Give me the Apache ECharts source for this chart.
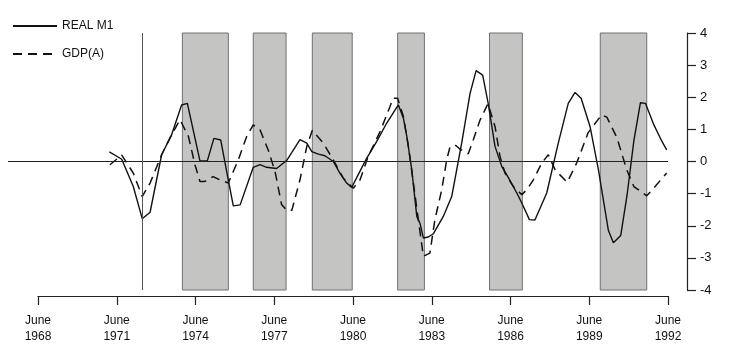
<!DOCTYPE html>
<html>
<head>
<meta charset="utf-8">
<script src="https://cdn.jsdelivr.net/npm/echarts@6/dist/echarts.min.js"></script>
<style>html,body{margin:0;padding:0;background:#fff}#c{width:733px;height:363px}</style>
</head>
<body>
<div id="c"></div>
<script>
// Decimal years (June 1968 = 1968.5)
const realM1Years = [1971.22,1971.69,1972.13,1972.47,1972.77,1973.21,1973.59,1973.97,1974.19,1974.67,1974.95,1975.20,1975.46,1975.71,1975.94,1976.20,1976.70,1976.96,1977.21,1977.59,1977.97,1978.48,1978.74,1978.93,1979.18,1979.43,1979.75,1980.00,1980.26,1980.45,1980.70,1981.02,1981.40,1981.78,1982.10,1982.23,1982.42,1982.55,1982.74,1982.93,1983.05,1983.18,1983.37,1983.56,1983.94,1984.26,1984.45,1984.64,1984.96,1985.19,1985.44,1985.65,1985.91,1986.17,1986.42,1986.74,1986.93,1987.22,1987.43,1987.88,1988.32,1988.70,1988.96,1989.19,1989.53,1989.85,1990.23,1990.42,1990.70,1990.94,1991.20,1991.45,1991.64,1991.94,1992.26,1992.45];
const realM1Values = [0.30,0.07,-0.78,-1.78,-1.58,0.21,0.83,1.76,1.81,0.02,0.02,0.72,0.67,-0.41,-1.38,-1.35,-0.18,-0.10,-0.18,-0.22,0.03,0.68,0.57,0.31,0.23,0.18,0.00,-0.36,-0.67,-0.81,-0.41,0.10,0.62,1.19,1.60,1.76,1.35,0.78,-0.26,-1.71,-1.92,-2.38,-2.35,-2.25,-1.71,-1.09,-0.26,0.57,2.12,2.83,2.69,1.81,0.47,-0.16,-0.50,-0.98,-1.29,-1.81,-1.82,-0.98,0.57,1.81,2.15,1.97,1.09,-0.26,-2.15,-2.53,-2.30,-1.05,0.65,1.83,1.81,1.18,0.64,0.36];
const gdpYears = [1971.24,1971.69,1972.13,1972.47,1972.77,1973.21,1973.57,1973.91,1974.23,1974.48,1974.67,1974.86,1975.17,1975.43,1975.75,1976.13,1976.45,1976.70,1976.96,1977.27,1977.53,1977.78,1977.97,1978.17,1978.48,1978.74,1978.95,1979.37,1979.75,1980.13,1980.51,1980.77,1981.08,1981.53,1981.91,1982.02,1982.20,1982.42,1982.61,1982.80,1982.99,1983.18,1983.43,1983.62,1983.88,1984.07,1984.20,1984.42,1984.58,1984.89,1985.08,1985.34,1985.64,1985.91,1986.10,1986.29,1986.61,1986.93,1987.12,1987.37,1987.69,1987.94,1988.20,1988.66,1989.02,1989.46,1989.97,1990.17,1990.55,1990.93,1991.20,1991.69,1992.04,1992.45];
const gdpValues = [-0.10,0.20,-0.36,-1.09,-0.67,0.21,0.80,1.30,0.78,-0.10,-0.62,-0.62,-0.47,-0.57,-0.67,0.05,0.78,1.14,0.98,0.36,-0.31,-1.34,-1.52,-1.52,-0.57,0.47,0.97,0.57,0.05,-0.52,-0.83,-0.57,0.16,0.93,1.71,1.97,1.97,1.40,0.47,-0.67,-1.81,-2.95,-2.85,-1.81,-0.88,0.05,0.47,0.50,0.38,0.24,0.67,1.29,1.80,1.09,0.16,-0.36,-0.78,-1.03,-0.88,-0.57,-0.05,0.21,-0.26,-0.65,-0.05,0.90,1.45,1.38,0.75,-0.26,-0.78,-1.07,-0.75,-0.36];
const shadeStart = [1974.00,1976.70,1978.95,1982.20,1985.70,1989.92];
const shadeEnd   = [1975.75,1977.95,1980.47,1983.22,1986.95,1991.69];
const markerYear = 1972.47;
const seriesNames = ['REAL M1','GDP(A)'];
const xTickLabel = 'June';

const base = 1968.5;
const pairs = (xs, ys) => xs.map((x, i) => [x - base, ys[i]]);
const FONT = 'Liberation Sans, Arial, sans-serif';
const hiddenAxis = {show: false, axisLine: {show: false, onZero: false}, axisTick: {show: false}, axisLabel: {show: false}, splitLine: {show: false}};

const chart = echarts.init(document.getElementById('c'), null, {renderer: 'canvas'});
chart.setOption({
  animation: false,
  backgroundColor: '#ffffff',
  textStyle: {fontFamily: FONT, color: '#111'},
  legend: {
    orient: 'vertical', left: 7, top: 15, itemWidth: 44, itemHeight: 12, itemGap: 16,
    itemStyle: {opacity: 0},
    textStyle: {fontFamily: FONT, fontSize: 12, color: '#111'},
    data: seriesNames
  },
  grid: [
    {left: 8, right: 65, top: 33, bottom: 73},
    {left: 38, right: 65, top: 33, bottom: 73}
  ],
  xAxis: [
    Object.assign({gridIndex: 0, type: 'value', min: (8 - 38) / 26.25, max: 24}, hiddenAxis),
    {gridIndex: 1, type: 'value', min: 0, max: 24, interval: 3, position: 'bottom', offset: 6,
     axisLine: {show: true, onZero: false, lineStyle: {color: '#222', width: 1.2}},
     axisTick: {show: true, length: 9, lineStyle: {color: '#222', width: 1.2}},
     splitLine: {show: false},
     axisLabel: {margin: 17, fontFamily: FONT, fontSize: 12, color: '#111', lineHeight: 16,
       formatter: v => xTickLabel + '\n' + Math.round(base + v - 0.5)}}
  ],
  yAxis: [
    {gridIndex: 0, type: 'value', position: 'right', offset: 19, min: -4, max: 4, interval: 1,
     axisLine: {show: true, onZero: false, lineStyle: {color: '#222', width: 1.2}},
     axisTick: {show: true, length: 9, lineStyle: {color: '#222', width: 1.2}},
     splitLine: {show: false},
     axisLabel: {margin: 13, fontFamily: FONT, fontSize: 13, color: '#111'}},
    Object.assign({gridIndex: 1, type: 'value', min: -4, max: 4}, hiddenAxis)
  ],
  series: [
    {
      type: 'line', xAxisIndex: 0, yAxisIndex: 0, data: [], z: 1, silent: true,
      markArea: {
        silent: true,
        itemStyle: {color: '#c4c5c2', borderColor: '#707070', borderWidth: 1},
        data: shadeStart.map((s, i) => [{xAxis: s - base}, {xAxis: shadeEnd[i] - base}])
      },
      markLine: {
        silent: true, symbol: 'none', label: {show: false},
        lineStyle: {color: '#222', width: 1, type: 'solid'},
        data: [{yAxis: 0}, {xAxis: markerYear - base, lineStyle: {color: '#555', width: 1}}]
      }
    },
    {
      name: seriesNames[0], type: 'line', xAxisIndex: 0, yAxisIndex: 0, z: 3,
      data: pairs(realM1Years, realM1Values), symbol: 'none', showSymbol: false,
      lineStyle: {color: '#111', width: 1.4, type: 'solid'}, itemStyle: {color: '#111'}
    },
    {
      name: seriesNames[1], type: 'line', xAxisIndex: 0, yAxisIndex: 0, z: 3,
      data: pairs(gdpYears, gdpValues), symbol: 'none', showSymbol: false,
      lineStyle: {color: '#111', width: 1.5, type: [9, 6]}, itemStyle: {color: '#111'}
    }
  ]
});
</script>
</body>
</html>
